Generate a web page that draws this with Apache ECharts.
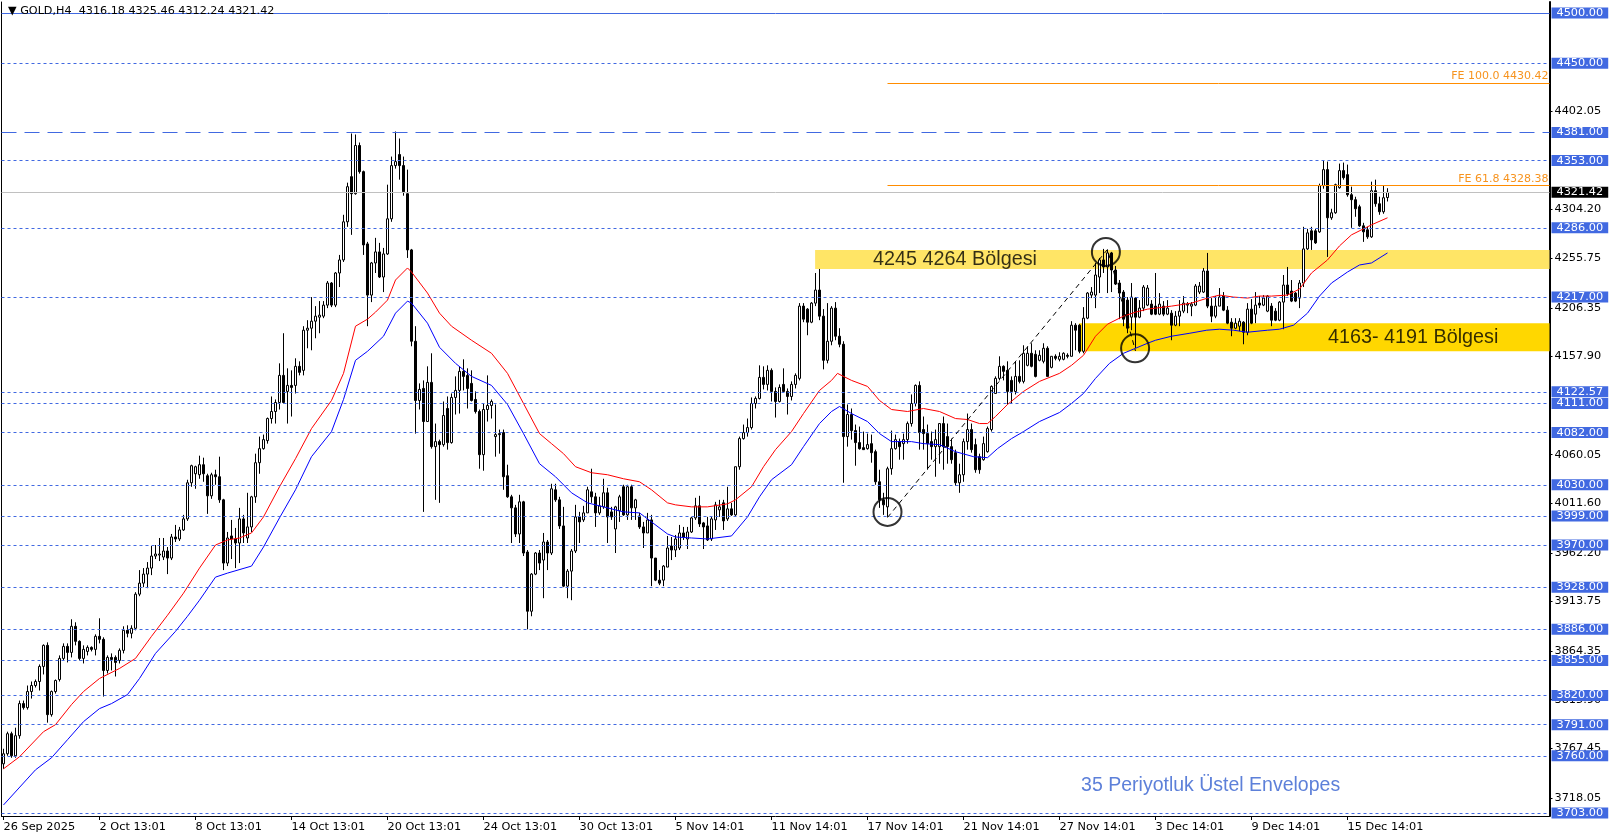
<!DOCTYPE html>
<html><head><meta charset="utf-8">
<script src="https://cdn.jsdelivr.net/npm/echarts@6/dist/echarts.min.js"></script>
<style>html,body{margin:0;padding:0;background:#fff;}#chart{width:1614px;height:840px;}</style>
</head><body><div id="chart"></div>
<script>
// ---------- DATA ----------
const headerSymbol = 'GOLD,H4';
const headerOHLC = [4316.18, 4325.46, 4312.24, 4321.42];
const dateTicks = ['26 Sep 2025','2 Oct 13:01','8 Oct 13:01','14 Oct 13:01','20 Oct 13:01','24 Oct 13:01','30 Oct 13:01','5 Nov 14:01','11 Nov 14:01','17 Nov 14:01','21 Nov 14:01','27 Nov 14:01','3 Dec 14:01','9 Dec 14:01','15 Dec 14:01'];
const barsPerTick = 24;
const slotCount = 387;

const candleOpen = [
3752,3762,3782,3760,3780,3812,3808,3824,3830,3834,
3849,3870,3801,3824,3836,3857,3869,3863,3889,3874,
3857,3864,3868,3866,3879,3876,3845,3858,3858,3855,
3865,3885,3882,3887,3921,3932,3941,3947,3959,3960,
3958,3964,3957,3978,3976,3985,3996,4032,4041,4040,
4050,4039,4019,4040,4038,4015,3952,3979,3976,3972,
3996,3977,3988,4018,4052,4066,4074,4096,4103,4112,
4139,4123,4129,4129,4148,4144,4184,4186,4193,4197,
4198,4209,4231,4209,4241,4254,4292,4337,4320,4368,
4342,4270,4219,4251,4262,4237,4260,4295,4348,4359,
4348,4320,4264,4173,4114,4126,4093,4132,4068,4073,
4070,4106,4072,4117,4124,4143,4139,4131,4115,4103,
4060,4105,4109,4078,4080,4082,4039,4018,4007,3981,
4013,3963,3904,3941,3962,3955,3973,3962,4025,4015,
3989,3929,3944,3964,3998,3995,4002,4023,4018,4002,
4008,4022,4003,3986,4004,4028,4000,4028,4007,3999,
3988,3982,3995,3957,3935,3935,3948,3969,3965,3967,
3982,3976,3983,3997,4009,3992,3989,3976,3995,4005,
4012,3996,4006,4000,4048,4076,4082,4087,4111,4116,
4137,4130,4144,4123,4113,4130,4123,4118,4130,4136,
4208,4205,4192,4211,4224,4198,4154,4173,4206,4178,
4170,4078,4100,4084,4072,4067,4066,4071,4063,4033,
4015,4008,4046,4066,4073,4071,4075,4091,4111,4129,
4085,4081,4073,4068,4068,4091,4078,4068,4062,4032,
4040,4073,4085,4070,4058,4055,4063,4085,4121,4136,
4148,4144,4134,4123,4138,4133,4149,4161,4160,4154,
4153,4166,4147,4158,4155,4155,4159,4158,4189,4189,
4163,4196,4219,4219,4237,4254,4247,4261,4244,4231,
4222,4214,4197,4216,4197,4206,4209,4210,4208,4200,
4208,4200,4201,4189,4198,4203,4209,4208,4209,4222,
4222,4243,4208,4198,4208,4218,4204,4192,4186,4188,
4192,4182,4205,4200,4211,4209,4203,4208,4203,4194,
4212,4229,4223,4221,4216,4231,4265,4283,4283,4282,
4328,4344,4296,4301,4326,4343,4339,4319,4314,4307,
4288,4284,4277,4323,4310,4302,4316.18];
const candleClose = [
3762,3782,3760,3780,3812,3808,3824,3830,3834,3849,
3870,3801,3824,3835,3857,3869,3863,3889,3874,3857,
3866,3868,3866,3879,3876,3845,3858,3856,3853,3865,
3885,3882,3887,3921,3932,3941,3947,3959,3961,3961,
3964,3957,3978,3976,3985,3996,4032,4049,4048,4050,
4041,4019,4040,4038,4015,3952,3977,3976,3972,3996,
3982,3988,4018,4052,4066,4075,4096,4103,4112,4139,
4112,4129,4127,4148,4142,4184,4186,4193,4198,4199,
4209,4231,4209,4241,4254,4292,4327,4320,4368,4342,
4269,4219,4251,4262,4237,4260,4295,4348,4352,4348,
4322,4264,4173,4114,4125,4093,4132,4068,4073,4070,
4099,4072,4117,4124,4143,4138,4126,4114,4103,4060,
4105,4109,4113,4080,4081,4038,4018,4007,3981,4013,
3962,3904,3941,3962,3952,3973,3962,4026,4015,3989,
3929,3944,3964,3998,3993,4002,4025,4018,4002,4009,
4022,3998,3998,4008,4018,4000,4028,4007,4015,3988,
3982,3995,3957,3935,3932,3949,3967,3965,3976,3982,
3978,3983,3997,4009,3991,3988,3975,3996,4010,4008,
3994,4006,4000,4048,4076,4082,4087,4111,4116,4137,
4130,4144,4123,4113,4127,4123,4118,4130,4139,4208,
4195,4192,4211,4224,4198,4154,4173,4206,4178,4170,
4078,4100,4084,4072,4066,4065,4070,4062,4033,4015,
4010,4046,4066,4075,4068,4075,4091,4111,4129,4082,
4081,4071,4068,4075,4091,4068,4068,4055,4032,4040,
4073,4085,4065,4045,4045,4071,4086,4128,4136,4148,
4143,4123,4123,4138,4133,4161,4161,4148,4138,4159,
4166,4138,4158,4156,4158,4161,4158,4189,4184,4163,
4196,4221,4222,4239,4254,4247,4261,4244,4230,4221,
4195,4186,4217,4197,4206,4227,4226,4200,4200,4210,
4200,4206,4189,4198,4203,4211,4210,4210,4228,4228,
4243,4208,4198,4208,4217,4204,4191,4186,4191,4193,
4182,4205,4191,4209,4209,4216,4218,4194,4194,4212,
4229,4220,4213,4213,4231,4265,4281,4274,4271,4328,
4344,4296,4301,4329,4343,4336,4319,4314,4305,4288,
4282,4277,4323,4310,4302,4316,4321.42];
const candleLow = [
3747,3760,3758,3758,3777,3806,3806,3817,3828,3825,
3841,3793,3799,3822,3834,3855,3853,3858,3870,3855,
3852,3860,3864,3860,3872,3819,3842,3845,3839,3852,
3862,3878,3877,3885,3919,3928,3927,3940,3956,3954,
3955,3941,3955,3973,3974,3984,3994,4028,4026,4036,
4033,4001,4016,4030,4012,3945,3949,3956,3947,3952,
3972,3972,3983,4012,4041,4065,4071,4091,4091,4105,
4111,4091,4098,4121,4139,4139,4166,4164,4176,4181,
4196,4206,4207,4207,4227,4252,4287,4279,4319,4340,
4259,4188,4212,4241,4236,4222,4259,4292,4345,4334,
4318,4256,4168,4081,4105,4003,4093,4066,4015,4012,
4068,4065,4071,4100,4101,4124,4106,4113,4101,4046,
4044,4093,4096,4058,4061,4025,4017,3972,3978,3972,
3959,3886,3899,3940,3945,3917,3945,3960,4013,3986,
3928,3917,3915,3962,3972,3993,4002,4012,3988,4000,
4006,3972,3995,3962,3993,3999,3995,3995,3995,3986,
3967,3982,3929,3934,3930,3929,3948,3955,3958,3965,
3975,3966,3982,3995,3988,3966,3974,3974,3985,3998,
3985,3994,3999,3999,4045,4075,4078,4085,4106,4115,
4125,4124,4113,4097,4112,4123,4100,4114,4126,4134,
4192,4179,4191,4208,4194,4145,4151,4169,4174,4167,
4032,4068,4075,4049,4065,4065,4065,4052,4030,4007,
4000,3998,4040,4065,4055,4055,4071,4088,4108,4065,
4065,4045,4055,4038,4051,4045,4051,4051,4029,4022,
4033,4065,4062,4042,4041,4054,4062,4083,4121,4134,
4134,4110,4111,4120,4131,4131,4148,4147,4137,4153,
4151,4138,4146,4154,4153,4154,4156,4158,4164,4161,
4161,4195,4216,4206,4221,4241,4221,4222,4229,4195,
4188,4181,4184,4166,4196,4203,4208,4199,4199,4199,
4198,4199,4174,4188,4188,4201,4201,4198,4208,4220,
4221,4206,4192,4196,4208,4203,4190,4178,4185,4183,
4170,4179,4190,4191,4206,4208,4202,4188,4193,4193,
4185,4218,4212,4212,4206,4227,4264,4264,4270,4281,
4325,4257,4294,4300,4325,4334,4317,4286,4297,4287,
4272,4275,4276,4307,4299,4300,4312.24];
const candleHigh = [
3767,3784,3784,3788,3815,3815,3830,3834,3836,3851,
3871,3873,3825,3836,3860,3872,3872,3896,3893,3875,
3870,3870,3869,3881,3897,3878,3860,3862,3860,3867,
3889,3890,3890,3923,3945,3947,3953,3969,3970,3977,
3977,3968,3981,3990,3988,4000,4035,4050,4049,4059,
4057,4041,4042,4045,4058,4016,3983,3995,3987,4007,
4000,4022,4019,4061,4078,4080,4097,4118,4115,4151,
4181,4146,4144,4156,4153,4188,4194,4217,4208,4213,
4213,4233,4232,4242,4259,4299,4331,4380,4379,4371,
4343,4272,4252,4276,4271,4266,4329,4357,4382,4375,
4357,4344,4265,4188,4131,4134,4148,4161,4091,4075,
4113,4118,4121,4138,4148,4155,4146,4144,4123,4105,
4111,4139,4115,4110,4085,4085,4050,4020,4010,4020,
4014,3965,3942,3963,3965,3982,3975,4031,4031,4018,
4008,3946,3966,4010,4003,4009,4028,4046,4022,4018,
4036,4027,4008,4009,4020,4030,4030,4030,4016,4002,
3993,4002,4000,3957,3945,3950,3979,3978,3980,3990,
3988,3988,3998,4017,4019,3993,3998,3998,4013,4015,
4015,4028,4012,4048,4078,4090,4096,4117,4118,4149,
4148,4149,4146,4127,4130,4146,4126,4133,4141,4211,
4211,4206,4212,4241,4245,4205,4211,4208,4212,4186,
4173,4110,4106,4090,4088,4083,4081,4080,4065,4045,
4022,4048,4084,4080,4076,4081,4093,4120,4130,4133,
4098,4090,4083,4085,4091,4098,4091,4076,4065,4051,
4076,4101,4091,4076,4061,4078,4088,4129,4138,4158,
4149,4153,4138,4153,4154,4169,4168,4171,4164,4164,
4171,4168,4158,4160,4162,4162,4161,4193,4191,4190,
4207,4222,4227,4251,4256,4265,4264,4262,4248,4234,
4224,4217,4231,4217,4214,4229,4229,4214,4241,4221,
4213,4214,4204,4203,4214,4218,4212,4212,4230,4232,
4246,4261,4216,4218,4226,4222,4208,4196,4196,4196,
4193,4211,4215,4222,4218,4219,4219,4211,4206,4213,
4239,4247,4234,4222,4234,4287,4285,4287,4285,4330,
4353,4352,4305,4330,4350,4351,4349,4327,4317,4309,
4291,4287,4332,4334,4317,4328,4325.46];

// envelope lines: [bar index, price]
const upperEnvelope = [[0,3747],[4,3759],[10,3784],[13,3791],[17,3811],[20,3824],[24,3837],[29,3847],[33,3857],[37,3879],[41,3900],[45,3922],[49,3947],[53,3970],[56,3975],[59,3977],[62,3982],[65,3998],[69,4028],[73,4056],[77,4086],[82,4114],[85,4141],[88,4188],[91,4195],[93,4202],[96,4214],[98,4234],[101,4246],[102,4242],[106,4221],[109,4201],[112,4188],[117,4174],[122,4161],[126,4141],[130,4111],[134,4081],[137,4071],[140,4061],[143,4048],[147,4042],[151,4040],[155,4036],[159,4033],[162,4025],[166,4012],[168,4010],[172,4008],[176,4008],[181,4011],[183,4015],[187,4028],[190,4048],[193,4065],[197,4083],[200,4101],[204,4124],[207,4134],[208.5,4141],[212,4134],[216,4128],[219,4114],[222,4105],[226,4103],[230,4106],[234,4103],[238,4096],[241,4095],[244,4091],[246,4091],[248,4098],[251,4110],[255,4123],[259,4133],[264,4141],[267,4149],[270,4159],[273,4178],[276,4190],[280,4198],[283,4202],[286,4205],[288,4206],[292,4208],[297,4211],[301,4216],[304,4219],[307.5,4217],[311,4216],[314,4218],[317,4218],[321,4219],[324,4225],[327,4241],[331,4254],[334,4268],[337,4279],[340.5,4286],[342,4289],[346,4296]];
const lowerEnvelope = [[0,3711],[8,3746],[12,3758],[16,3776],[20,3794],[24,3807],[27,3812],[31,3821],[34,3837],[38,3862],[43,3884],[46,3899],[49,3915],[53,3938],[56,3942],[62,3949],[65,3968],[69,3997],[73,4025],[77,4058],[82,4083],[85,4115],[88,4154],[91,4163],[95,4178],[98,4201],[101,4213],[102,4211],[106,4191],[109,4167],[113,4151],[117,4138],[122,4129],[126,4110],[130,4081],[134,4051],[138,4038],[142,4022],[146,4012],[150,4008],[155,4003],[159,4002],[162,3993],[166,3981],[168,3978],[172,3977],[176,3976],[182,3979],[186,3998],[189,4018],[192,4035],[197,4050],[200,4068],[204,4091],[207,4103],[209,4108],[212,4101],[216,4093],[219,4081],[222,4073],[227,4073],[230,4071],[234,4070],[238,4063],[242.5,4058],[246,4057],[248.5,4066],[252,4076],[255,4083],[259,4093],[264,4102],[267,4111],[270,4121],[273,4136],[276.5,4151],[280,4161],[283,4166],[286,4171],[288,4174],[292,4178],[296.6,4181],[300.8,4184],[304,4185],[307.5,4184],[311,4182],[316,4184],[319,4185],[322.5,4189],[326,4201],[329,4218],[332,4231],[336,4242],[339,4249],[342,4251],[346,4261]];

const dottedLevels = [4450, 4353, 4286, 4217, 4122.57, 4111, 4082, 4030, 3999, 3970, 3928, 3886, 3855, 3820, 3791, 3760, 3703];
const solidLevel = 4500;
const dashedLevel = 4381;
const lastPrice = 4321.42;
const priceTicks = [4402.05, 4304.20, 4255.75, 4206.35, 4157.90, 4060.05, 4011.60, 3962.20, 3913.75, 3864.35, 3815.90, 3767.45, 3718.05];

const fibPoints = [[221, 3997.4], [276, 4264.5], [283, 4163.3]];
const fibLevelNames = ['FE 100.0', 'FE 61.8'];
const fibLevelValues = [4430.42, 4328.38];
const circleCenters = [[221, 4003], [275.6, 4262], [282.9, 4166]];

const zoneNames = ['4245 4264 Bölgesi', '4163- 4191 Bölgesi'];
const zoneLow = [4245, 4163];
const zoneHigh = [4264, 4191];
const zoneStart = [202.9, 268.9];
const zoneLabelAt = [[217.4, 4254.5], [331.1, 4177]];
const noteText = '35 Periyotluk Üstel Envelopes';
const noteAt = [269.4, 3729.8];

// ---------- CHART ----------
const FONT = '"DejaVu Sans", sans-serif';
const TFONT = '"Liberation Sans", Arial, sans-serif';
const AXFS = 11.3;
const BLUE = '#4169E1';
const xMax = slotCount - 0.5;
const categories = Array.from({length: slotCount}, (_, i) =>
  (i % barsPerTick === 0 && dateTicks[i / barsPerTick]) ? dateTicks[i / barsPerTick] : '');
const candleData = candleOpen.map((o, i) => [o, candleClose[i], candleLow[i], candleHigh[i]]);
const showTick = (idx) => idx % barsPerTick === 0 && categories[idx] !== '';

function boxLabel(bg) {
  return {show: true, position: 'end', distance: 2, formatter: p => Number(p.value).toFixed(2),
    color: '#fff', backgroundColor: bg, padding: [0, 5, 0, 5], fontSize: AXFS, lineHeight: 11, fontFamily: FONT};
}
const chart = echarts.init(document.getElementById('chart'));
chart.setOption({
  animation: false,
  backgroundColor: '#fff',
  title: {text: '▼ ' + headerSymbol + '  ' + headerOHLC.map(v => v.toFixed(2)).join(' '),
    left: 8, top: 6, padding: 0,
    textStyle: {fontSize: 11.2, fontWeight: 'normal', fontFamily: FONT, color: '#000'}},
  grid: {left: 1.5, right: 64.5, top: 2, bottom: 24, containLabel: false, outerBoundsMode: 'none'},
  xAxis: [
    {type: 'category', data: categories, boundaryGap: true,
      axisLine: {show: true, lineStyle: {color: '#000', width: 1}},
      axisTick: {show: true, interval: showTick, alignWithLabel: true, length: 4, lineStyle: {color: '#000'}},
      axisLabel: {interval: showTick, align: 'left', color: '#000', fontSize: AXFS, fontFamily: FONT, margin: 6, hideOverlap: false},
      splitLine: {show: false}},
    {type: 'value', min: -0.5, max: xMax, show: false}
  ],
  yAxis: [
    {type: 'value', position: 'right', min: 3700, max: 4511, scale: true, splitLine: {show: false},
      axisLine: {show: true, onZero: false, lineStyle: {color: '#000', width: 2}},
      axisTick: {show: true, customValues: priceTicks, length: 3, lineStyle: {color: '#000'}},
      axisLabel: {customValues: priceTicks, formatter: v => v.toFixed(2), color: '#000', fontSize: AXFS, fontFamily: FONT, margin: 5}},
    {type: 'value', position: 'left', min: 3700, max: 4511, splitLine: {show: false},
      axisLine: {show: true, onZero: false, lineStyle: {color: '#000', width: 1}},
      axisTick: {show: false}, axisLabel: {show: false}}
  ],
  series: [
    {type: 'line', xAxisIndex: 1, yAxisIndex: 0, data: [], z: 0, silent: true,
      markArea: {silent: true, data: zoneNames.map((n, k) => [
        {xAxis: zoneStart[k], yAxis: zoneHigh[k], itemStyle: {color: k === 0 ? '#FFE566' : '#FFD700'}},
        {xAxis: xMax, yAxis: zoneLow[k]}])}},
    {type: 'line', xAxisIndex: 1, yAxisIndex: 0, data: [], z: 1, silent: true,
      markLine: {silent: true, symbol: ['none', 'none'], emphasis: {disabled: true},
        lineStyle: {color: BLUE, width: 1, type: [3, 3]}, label: boxLabel(BLUE),
        data: dottedLevels.map(v => ({yAxis: v}))}},
    {type: 'line', xAxisIndex: 1, yAxisIndex: 0, data: [], z: 1, silent: true,
      markLine: {silent: true, symbol: ['none', 'none'], emphasis: {disabled: true}, label: boxLabel(BLUE),
        data: [
          {yAxis: solidLevel, lineStyle: {color: BLUE, width: 1, type: 'solid'}},
          {yAxis: dashedLevel, lineStyle: {color: BLUE, width: 1, type: [15, 8]}}]}},
    {type: 'line', xAxisIndex: 1, yAxisIndex: 0, data: [], z: 1, silent: true,
      markLine: {silent: true, symbol: ['none', 'none'], emphasis: {disabled: true}, label: boxLabel('#000'),
        data: [{yAxis: lastPrice, lineStyle: {color: '#C0C0C0', width: 1, type: 'solid'}}]}},
    {type: 'line', xAxisIndex: 1, yAxisIndex: 0, data: [], z: 2, silent: true,
      markLine: {silent: true, symbol: ['none', 'none'], emphasis: {disabled: true},
        lineStyle: {color: '#FF8C00', width: 1, type: 'solid'},
        label: {show: true, position: 'insideEndTop', distance: 1, color: '#F7931E', fontSize: 11, fontFamily: FONT},
        data: fibLevelValues.map((v, k) => [
          {coord: [fibPoints[0][0], v], label: {formatter: fibLevelNames[k] + ' ' + v.toFixed(2)}},
          {coord: [xMax, v]}])}},
    {type: 'candlestick', xAxisIndex: 0, yAxisIndex: 0, data: candleData, z: 3, barWidth: 2,
      silent: true,
      itemStyle: {color: '#fff', color0: '#000', borderColor: '#000', borderColor0: '#000', borderWidth: 1}},
    {type: 'line', xAxisIndex: 1, yAxisIndex: 0, data: upperEnvelope, z: 4, showSymbol: false, silent: true,
      lineStyle: {color: '#FF0000', width: 1}},
    {type: 'line', xAxisIndex: 1, yAxisIndex: 0, data: lowerEnvelope, z: 4, showSymbol: false, silent: true,
      lineStyle: {color: '#0000FF', width: 1}},
    {type: 'line', xAxisIndex: 1, yAxisIndex: 0, data: fibPoints, z: 5, showSymbol: false, silent: true,
      lineStyle: {color: '#000', width: 1, type: [5, 4]}},
    {type: 'scatter', xAxisIndex: 1, yAxisIndex: 0, data: circleCenters, z: 6, silent: true,
      symbol: 'circle', symbolSize: 28,
      itemStyle: {color: 'rgba(0,0,0,0)', borderColor: '#000', borderWidth: 2}},
    {type: 'scatter', xAxisIndex: 1, yAxisIndex: 0, z: 7, silent: true, symbolSize: 0,
      data: zoneNames.map((n, k) => ({name: n, value: zoneLabelAt[k]})),
      label: {show: true, position: 'right', distance: 0, formatter: '{b}', color: '#000', fontSize: 19.8, fontFamily: TFONT}},
    {type: 'scatter', xAxisIndex: 1, yAxisIndex: 0, z: 7, silent: true, symbolSize: 0,
      data: [{name: noteText, value: noteAt}],
      label: {show: true, position: 'right', distance: 0, formatter: '{b}', color: '#3460D0', fontSize: 19.5, fontFamily: TFONT}}
  ]
});
</script></body></html>
